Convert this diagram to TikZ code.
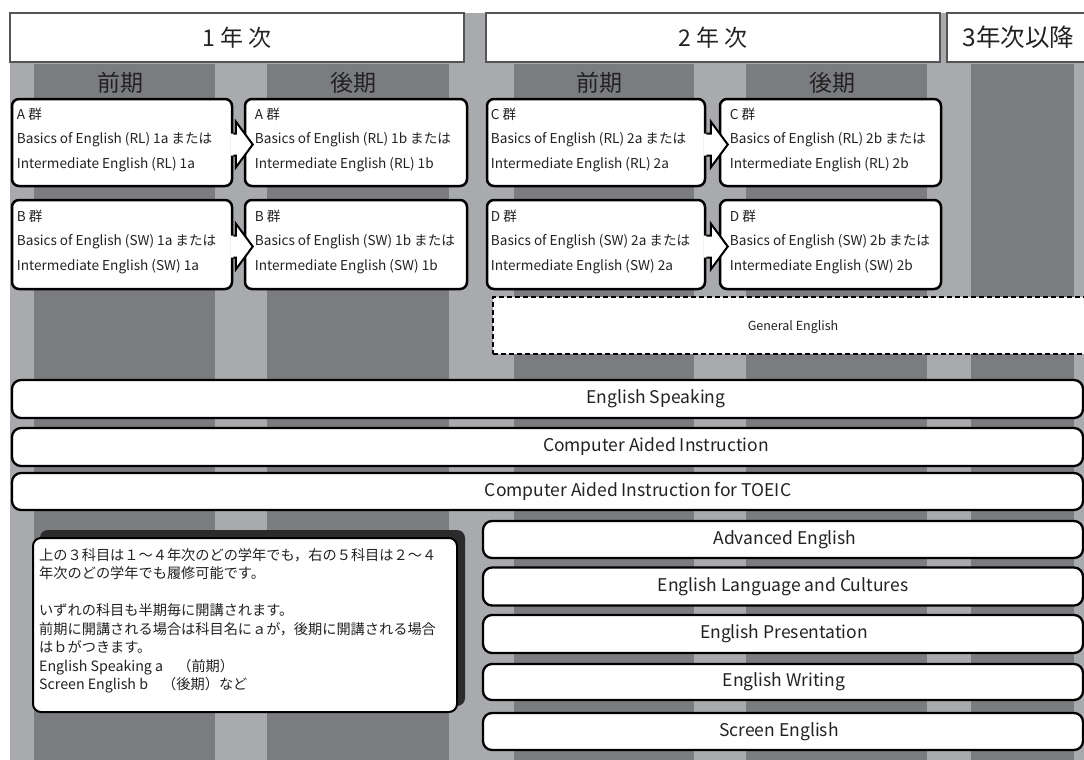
\documentclass[tikz,border=0pt]{standalone}
\usepackage{fontspec}
\setmainfont{Noto Sans CJK JP}
\usetikzlibrary{calc}
\definecolor{lightg}{HTML}{A9AAAD}
\definecolor{darkg}{HTML}{7B7C80}
\definecolor{txt}{HTML}{222222}
\definecolor{hdrline}{HTML}{555555}
\definecolor{shadowc}{HTML}{2B2B2B}
\tikzset{
  hdr/.style={draw=hdrline, line width=1.5pt, fill=white, inner sep=0pt, text=txt, font=\fontsize{23}{26}\selectfont},
  term/.style={text=txt, font=\fontsize{23}{26}\selectfont, inner sep=0pt},
  cbox/.style={draw=black, line width=2.5pt, rounded corners=7pt, fill=white, inner sep=0pt},
  ctext/.style={anchor=west, align=left, text=txt, inner sep=0pt, font=\fontsize{13.6}{24.5}\selectfont},
  dbox/.style={draw=black, dashed, dash pattern=on 5pt off 3pt, line width=1.3pt, fill=white, inner sep=0pt},
  bar/.style={draw=black, line width=2.3pt, rounded corners=9pt, fill=white, inner sep=0pt},
  btext/.style={text=txt, inner sep=0pt, font=\fontsize{17.5}{20}\selectfont},
  gtext/.style={text=txt, inner sep=0pt, font=\fontsize{12.5}{15}\selectfont},
  ntext/.style={anchor=north west, align=left, text=txt, inner sep=0pt, font=\fontsize{14.2}{18.5}\selectfont},
}
\newcommand\blkarrow[2]{%
  \fill[white] let \p1=(#1.east), \p2=(#2.west) in
    ({\x1-3pt},{\y1-2pt+11pt}) -- ({\x2-8pt},{\y1-2pt+11pt}) -- ({\x2-8pt},{\y1-2pt+23pt})
      -- ({\x2+9pt},{\y1-2pt}) -- ({\x2-8pt},{\y1-2pt-23pt}) -- ({\x2-8pt},{\y1-2pt-11pt})
      -- ({\x1-3pt},{\y1-2pt-11pt}) -- cycle;
  \draw[line width=2pt, line join=miter] let \p1=(#1.east), \p2=(#2.west) in
    ({\x1},{\y1-2pt+11pt}) -- ({\x2-8pt},{\y1-2pt+11pt}) -- ({\x2-8pt},{\y1-2pt+23pt})
      -- ({\x2+9pt},{\y1-2pt}) -- ({\x2-8pt},{\y1-2pt-23pt}) -- ({\x2-8pt},{\y1-2pt-11pt})
      -- ({\x1},{\y1-2pt-11pt});
}
\begin{document}
\begin{tikzpicture}[x=1pt,y=-1pt]
\useasboundingbox (0,0) rectangle (1084,760);
\fill[white] (0,0) rectangle (1084,760);
\fill[lightg] (10,13) rectangle (1084,760);
% stripes
\fill[darkg] (34,64) rectangle (215,760);
\fill[darkg] (267,64) rectangle (449,760);
\fill[darkg] (514,64) rectangle (694,760);
\fill[darkg] (746,64) rectangle (927,760);
\fill[darkg] (971,64) rectangle (1074,760);
% headers
\node[hdr, minimum width=454pt, minimum height=49pt] (h1) at (237,37.5) {1 年 次};
\node[hdr, minimum width=454pt, minimum height=49pt] (h2) at (713,37.5) {2 年 次};
\node[hdr, minimum width=143pt, minimum height=49pt, font=\fontsize{24.5}{26}\selectfont] (h3) at (1018.5,37.5) {3年次以降};
% term labels
\node[term] (t1) at (120,83) {前期};
\node[term] (t2) at (353,83) {後期};
\node[term] (t3) at (599,83) {前期};
\node[term] (t4) at (832,83) {後期};
% course boxes
\node[cbox, minimum width=220pt, minimum height=87pt] (a1) at (122,142.5) {};
\node[cbox, minimum width=222pt, minimum height=87pt] (a2) at (356,142.5) {};
\node[cbox, minimum width=218pt, minimum height=87pt] (c1) at (596,142.5) {};
\node[cbox, minimum width=221pt, minimum height=87pt] (c2) at (830.5,142.5) {};
\node[cbox, minimum width=220pt, minimum height=89pt] (b1) at (122,244.5) {};
\node[cbox, minimum width=222pt, minimum height=89pt] (b2) at (356,244.5) {};
\node[cbox, minimum width=218pt, minimum height=89pt] (d1) at (596,244.5) {};
\node[cbox, minimum width=221pt, minimum height=89pt] (d2) at (830.5,244.5) {};
\node[ctext] (a1t) at ([xshift=6pt,yshift=3pt]a1.west) {A 群\\Basics of English (RL) 1a または\\Intermediate English (RL) 1a};
\node[ctext] (a2t) at ([xshift=11pt,yshift=3pt]a2.west) {A 群\\Basics of English (RL) 1b または\\Intermediate English (RL) 1b};
\node[ctext] (c1t) at ([xshift=5pt,yshift=3pt]c1.west) {C 群\\Basics of English (RL) 2a または\\Intermediate English (RL) 2a};
\node[ctext] (c2t) at ([xshift=11pt,yshift=3pt]c2.west) {C 群\\Basics of English (RL) 2b または\\Intermediate English (RL) 2b};
\node[ctext] (b1t) at ([xshift=6pt,yshift=3pt]b1.west) {B 群\\Basics of English (SW) 1a または\\Intermediate English (SW) 1a};
\node[ctext] (b2t) at ([xshift=11pt,yshift=3pt]b2.west) {B 群\\Basics of English (SW) 1b または\\Intermediate English (SW) 1b};
\node[ctext] (d1t) at ([xshift=5pt,yshift=3pt]d1.west) {D 群\\Basics of English (SW) 2a または\\Intermediate English (SW) 2a};
\node[ctext] (d2t) at ([xshift=11pt,yshift=3pt]d2.west) {D 群\\Basics of English (SW) 2b または\\Intermediate English (SW) 2b};
% block arrows
\blkarrow{a1}{a2}
\blkarrow{c1}{c2}
\blkarrow{b1}{b2}
\blkarrow{d1}{d2}
% general english
\node[dbox, minimum width=597pt, minimum height=57pt] (ge) at (791.5,325.5) {};
\node[gtext] (get) at (793,327) {General English};
% full-width bars
\node[bar, minimum width=1071pt, minimum height=38pt] (es) at (547.5,399) {};
\node[btext] (est) at (656,399) {English Speaking};
\node[bar, minimum width=1071pt, minimum height=38pt] (cai) at (547.5,447) {};
\node[btext] (cait) at (656,447) {Computer Aided Instruction};
\node[bar, minimum width=1071pt, minimum height=37pt] (toeic) at (547.5,491.5) {};
\node[btext] (toeict) at (638,491.5) {Computer Aided Instruction for TOEIC};
% right bars
\node[bar, minimum width=600pt, minimum height=37pt] (ae) at (783,539.5) {};
\node[btext] (aet) at (785,539.5) {Advanced English};
\node[bar, minimum width=600pt, minimum height=38pt] (elc) at (783,586.5) {};
\node[btext] (elct) at (783,586.5) {English Language and Cultures};
\node[bar, minimum width=600pt, minimum height=38pt] (ep) at (783,634) {};
\node[btext] (ept) at (784,634) {English Presentation};
\node[bar, minimum width=600pt, minimum height=36pt] (ew) at (783,682) {};
\node[btext] (ewt) at (784,682) {English Writing};
\node[bar, minimum width=600pt, minimum height=37pt] (se) at (783,731.5) {};
\node[btext] (set) at (779,731.5) {Screen English};
% note box
\fill[shadowc, rounded corners=8pt] (40,530) rectangle (465,706);
\node[draw=black, line width=2pt, rounded corners=8pt, fill=white, minimum width=424pt, minimum height=174pt, inner sep=0pt] (note) at (245,625) {};
\node[ntext] (notet) at ([xshift=7pt,yshift=-11pt]note.north west) {上の３科目は１～４年次のどの学年でも，右の５科目は２～４\\年次のどの学年でも履修可能です。\\[18.5pt]いずれの科目も半期毎に開講されます。\\前期に開講される場合は科目名にａが，後期に開講される場合\\はｂがつきます。\\English Speaking a　（前期）\\Screen English b　（後期）など};
\end{tikzpicture}
\end{document}
